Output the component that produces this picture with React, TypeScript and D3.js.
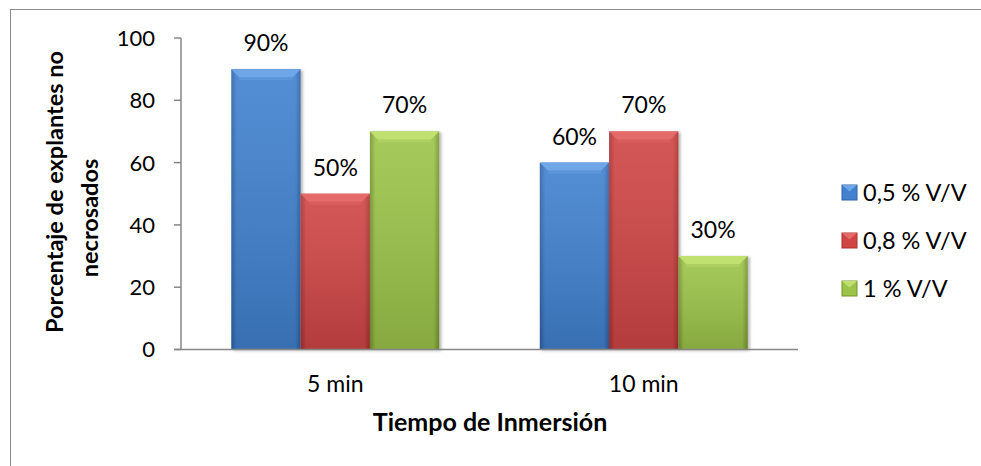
import React from 'react';
import * as d3 from 'd3';

const categories = ['5 min', '10 min'];
const seriesNames = ['0,5 % V/V', '0,8 % V/V', '1 % V/V'];
const series05 = [90, 60];
const series08 = [50, 70];
const series1 = [70, 30];
const yTicks = [0, 20, 40, 60, 80, 100];

const W = 981;
const H = 466;
const FONT = 'Lato, "Open Sans", sans-serif';

// colours per series: [light top, mid, dark edge]
const palette = [
  ['#6ea6e8', '#4181cf', '#2f62a6'],
  ['#e56a6a', '#d04444', '#a83030'],
  ['#c0e070', '#9cc448', '#76952f'],
];

const App: React.FC = () => {
  const plot = { left: 181, right: 798, top: 38, bottom: 349.5 };

  const x0 = d3.scaleBand<string>()
    .domain(categories)
    .range([plot.left, plot.right])
    .paddingInner(0.326)
    .paddingOuter(0.163);

  const x1 = d3.scaleBand<string>()
    .domain(seriesNames)
    .range([0, x0.bandwidth()]);

  const y = d3.scaleLinear().domain([0, 100]).range([plot.bottom, plot.top]);

  const values = [series05, series08, series1];
  const bars = categories.flatMap((c, ci) =>
    seriesNames.map((s, si) => ({ c, s, si, v: values[si][ci] }))
  );

  const bevel = 8;

  return (
    <svg width={W} height={H} style={{ position: 'absolute', left: 0, top: 0, background: '#fff' }}>
      <defs>
        {palette.map((p, i) => (
          <linearGradient key={i} id={`hg${i}`} x1="0" x2="1" y1="0" y2="0">
            <stop offset="0" stopColor={p[2]} />
            <stop offset="0.08" stopColor={p[1]} />
            <stop offset="0.92" stopColor={p[1]} />
            <stop offset="1" stopColor={p[2]} />
          </linearGradient>
        ))}
        <linearGradient id="vshade" x1="0" x2="0" y1="0" y2="1">
          <stop offset="0" stopColor="#fff" stopOpacity="0.1" />
          <stop offset="1" stopColor="#000" stopOpacity="0.14" />
        </linearGradient>
        <filter id="shadow" x="-20%" y="-10%" width="140%" height="120%">
          <feDropShadow dx="2" dy="1" stdDeviation="1.5" floodColor="#000" floodOpacity="0.3" />
        </filter>
      </defs>

      {/* outer chart border */}
      <rect x={10.5} y={9.5} width={1000} height={500} fill="none" stroke="#8a8a8a" strokeWidth={1} />

      {/* bars */}
      {bars.map((b, i) => {
        const bx = (x0(b.c) ?? 0) + (x1(b.s) ?? 0);
        const bw = x1.bandwidth();
        const by = y(b.v);
        const bh = y(0) - by;
        const p = palette[b.si];
        return (
          <g key={i}>
            <rect x={bx} y={by} width={bw} height={bh} fill={`url(#hg${b.si})`} filter="url(#shadow)" />
            <rect x={bx} y={by} width={bw} height={bh} fill="url(#vshade)" />
            <polygon
              points={`${bx},${by} ${bx + bw},${by} ${bx + bw - bevel},${by + bevel} ${bx + bevel},${by + bevel}`}
              fill={p[0]}
            />
            <rect x={bx + bevel} y={by + bevel} width={bw - 2 * bevel} height={3} fill={p[0]} opacity={0.35} />
            <text
              x={bx + bw / 2}
              y={by - 18}
              textAnchor="middle"
              fontFamily={FONT}
              fontSize={23}
              fill="#000"
            >
              {b.v}%
            </text>
          </g>
        );
      })}

      {/* axes */}
      <g stroke="#878787" strokeWidth={1.5} fill="none">
        <line x1={plot.left} x2={plot.left} y1={plot.top} y2={plot.bottom} />
        <line x1={plot.left - 7} x2={plot.right} y1={plot.bottom} y2={plot.bottom} />
        {yTicks.map((t) => (
          <line key={t} x1={plot.left - 7} x2={plot.left} y1={y(t)} y2={y(t)} />
        ))}
      </g>

      {yTicks.map((t) => (
        <text
          key={t}
          x={155}
          y={y(t)}
          dy="0.36em"
          textAnchor="end"
          fontFamily={FONT}
          fontSize={22}
          fill="#000"
        >
          {t}
        </text>
      ))}

      {categories.map((c) => (
        <text
          key={c}
          x={(x0(c) ?? 0) + x0.bandwidth() / 2}
          y={392}
          textAnchor="middle"
          fontFamily={FONT}
          fontSize={23}
          fill="#000"
        >
          {c}
        </text>
      ))}

      <text x={490} y={431} textAnchor="middle" fontFamily={FONT} fontSize={25} fontWeight="bold" fill="#000">
        Tiempo de Inmersión
      </text>

      <text
        transform="translate(63,192) rotate(-90)"
        textAnchor="middle"
        fontFamily={FONT}
        fontSize={23.5}
        fontWeight="bold"
        fill="#000"
      >
        Porcentaje de explantes no
      </text>
      <text
        transform="translate(98,218) rotate(-90)"
        textAnchor="middle"
        fontFamily={FONT}
        fontSize={23.5}
        fontWeight="bold"
        fill="#000"
      >
        necrosados
      </text>

      {/* legend */}
      {seriesNames.map((s, i) => {
        const cy = 192.5 + i * 48;
        const p = palette[i];
        return (
          <g key={s}>
            <rect x={842} y={cy - 7.5} width={15} height={15} fill={p[1]} stroke={p[2]} strokeWidth={1} />
            <polygon points={`${842},${cy - 7.5} ${857},${cy - 7.5} ${849.5},${cy - 1}`} fill={p[0]} />
            <text x={863} y={cy} dy="0.36em" fontFamily={FONT} fontSize={23.5} fill="#000">
              {s}
            </text>
          </g>
        );
      })}
    </svg>
  );
};

export default App;
